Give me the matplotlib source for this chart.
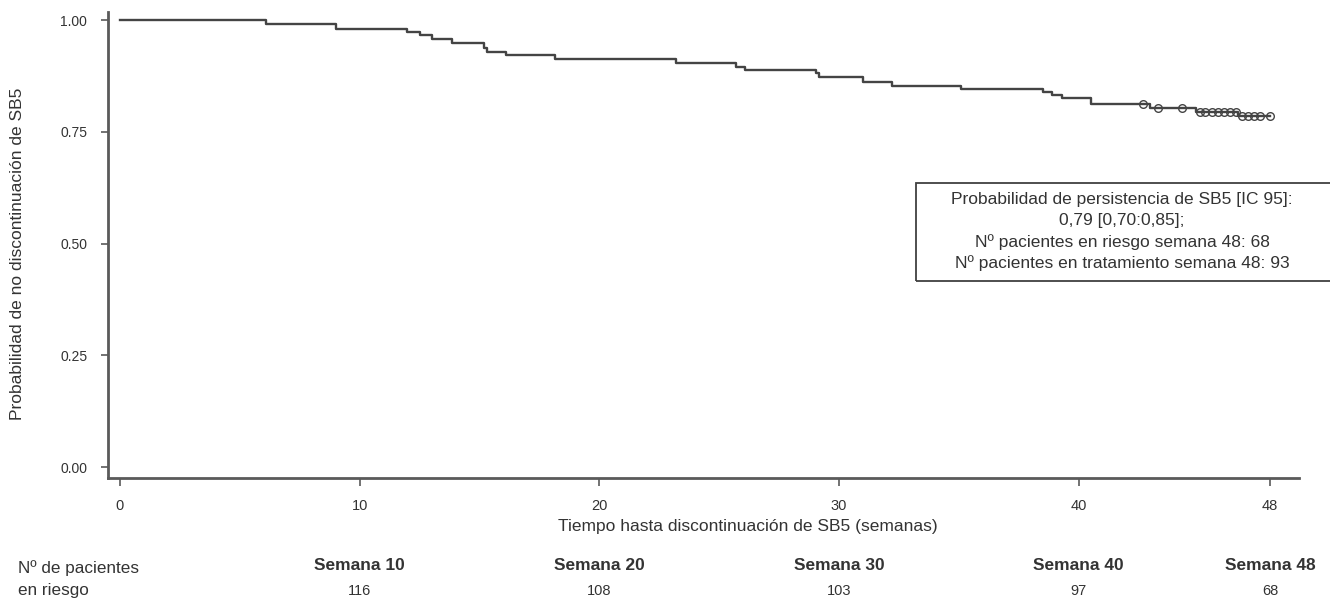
import numpy as np
import matplotlib
matplotlib.use("Agg")
import matplotlib.pyplot as plt
from matplotlib.patches import Rectangle
from matplotlib.transforms import blended_transform_factory

plt.rcParams["font.family"] = ["Liberation Sans", "DejaVu Sans"]

# Kaplan-Meier steps (weeks, survival after each drop)
event_weeks = [0, 6.1, 9.0, 11.97, 12.5, 13.0, 13.85, 15.2, 15.3, 16.1, 18.16,
               23.2, 25.7, 26.1, 29.05, 29.15, 31.0, 32.2, 35.1, 38.5, 38.9,
               39.3, 40.5, 43.0, 44.9, 46.66]
survival = [1.0, 0.991, 0.981, 0.973, 0.967, 0.957, 0.948, 0.937, 0.929, 0.922,
            0.913, 0.905, 0.896, 0.888, 0.881, 0.873, 0.862, 0.852, 0.846, 0.838,
            0.832, 0.825, 0.813, 0.803, 0.795, 0.786]
censor_weeks = [42.7, 43.33, 44.31, 45.08, 45.28, 45.57, 45.83, 46.08, 46.33,
                46.58, 46.83, 47.08, 47.33, 47.58, 48.0]

x_ticks = [0, 10, 20, 30, 40, 48]
y_ticks = [0.0, 0.25, 0.5, 0.75, 1.0]

risk_weeks = [10, 20, 30, 40, 48]
risk_labels = ["Semana 10", "Semana 20", "Semana 30", "Semana 40", "Semana 48"]
at_risk = [116, 108, 103, 97, 68]

box_lines = [
    "Probabilidad de persistencia de SB5 [IC 95]:",
    "0,79 [0,70:0,85];",
    "Nº pacientes en riesgo semana 48: 68",
    "Nº pacientes en tratamiento semana 48: 93",
]

W, H = 1330, 601
fig = plt.figure(figsize=(W / 100, H / 100), dpi=100)
ax = fig.add_axes([108 / W, 1 - 478 / H, (1299 - 108) / W, (478 - 12) / H])

CURVE = "#444444"
SPINE = "#5a5a5a"
TXT = "#333333"

# step curve, extended to the last censored time
xs = list(event_weeks) + [censor_weeks[-1]]
ys = list(survival) + [survival[-1]]
ax.step(xs, ys, where="post", color=CURVE, lw=1.7)

idx = np.searchsorted(event_weeks, censor_weeks, side="right") - 1
cens_y = np.array(survival)[idx]
ax.plot(censor_weeks, cens_y, "o", mfc="none", mec=CURVE, ms=5.5, mew=1.0)

ax.set_xlim(-0.5, 49.2)
ax.set_ylim(-0.0246, 1.018)
ax.set_xticks(x_ticks)
ax.set_xticklabels([str(t) for t in x_ticks])
ax.set_yticks(y_ticks)
ax.set_yticklabels([f"{v:.2f}" for v in y_ticks])

for s in ["top", "right"]:
    ax.spines[s].set_visible(False)
for s in ["left", "bottom"]:
    ax.spines[s].set_color(SPINE)
    ax.spines[s].set_linewidth(2)

ax.tick_params(axis="y", length=5, width=1.2, pad=10, colors=SPINE,
               labelcolor=TXT, labelsize=10)
ax.tick_params(axis="x", length=6, width=1.2, pad=9, colors=SPINE,
               labelcolor=TXT, labelsize=10.5)

fig.text(18 / W, 1 - 254 / H, "Probabilidad de no discontinuación de SB5",
         rotation=90, ha="center", va="center", fontsize=12.5, color=TXT)
fig.text(748 / W, 1 - 527 / H, "Tiempo hasta discontinuación de SB5 (semanas)",
         ha="center", va="center", fontsize=12.5, color=TXT)

# info box
fig.patches.append(Rectangle((916 / W, 1 - 281 / H), (1335 - 916) / W, (281 - 183) / H,
                             transform=fig.transFigure, fill=False,
                             edgecolor="#404040", lw=1.3))
for i, line in enumerate(box_lines):
    fig.text(1122 / W, 1 - (200 + 21 * i) / H, line, ha="center", va="center",
             fontsize=12.5, color=TXT)

# number at risk table
tr = blended_transform_factory(ax.transData, fig.transFigure)
fig.text(18 / W, 1 - 568 / H, "Nº de pacientes", ha="left", va="center",
         fontsize=12.3, color=TXT)
fig.text(18 / W, 1 - 591 / H, "en riesgo", ha="left", va="center",
         fontsize=12.3, color=TXT)
for wk, lab, n in zip(risk_weeks, risk_labels, at_risk):
    ax.text(wk, 1 - 565 / H, lab, transform=tr, ha="center", va="center",
            fontsize=12.5, fontweight="bold", color=TXT, clip_on=False)
    ax.text(wk, 1 - 591 / H, str(n), transform=tr, ha="center", va="center",
            fontsize=10.5, color=TXT, clip_on=False)

fig.savefig("out.png", dpi=100)
